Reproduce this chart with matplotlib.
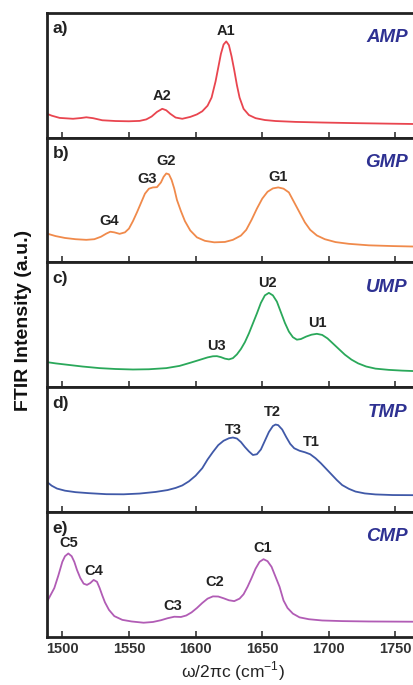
import matplotlib
matplotlib.use("Agg")
import matplotlib.pyplot as plt

plt.rcParams['font.family'] = ['Liberation Sans', 'DejaVu Sans']
plt.rcParams['mathtext.fontset'] = 'custom'
plt.rcParams['mathtext.rm'] = 'Liberation Sans'

# spectra (y normalised to panel height)
amp_x = [1488.5, 1492, 1498, 1508, 1514, 1518, 1523, 1530, 1540, 1550, 1558, 1563, 1567, 1571, 1575,
         1578, 1581, 1585, 1590, 1596, 1601, 1605, 1609, 1612, 1615, 1617, 1619, 1621, 1623, 1625,
         1627, 1629, 1631, 1633, 1636, 1640, 1645, 1652, 1660, 1675, 1695, 1720, 1745, 1765]
amp_y = [0.19, 0.175, 0.157, 0.150, 0.156, 0.162, 0.155, 0.138, 0.132, 0.130, 0.133, 0.145, 0.168,
         0.205, 0.230, 0.218, 0.190, 0.160, 0.150, 0.165, 0.185, 0.210, 0.255, 0.320, 0.450, 0.560,
         0.670, 0.745, 0.770, 0.740, 0.650, 0.540, 0.420, 0.320, 0.230, 0.180, 0.155, 0.140, 0.132,
         0.125, 0.120, 0.115, 0.111, 0.108]

gmp_x = [1488.5, 1495, 1502, 1510, 1518, 1524, 1529, 1533, 1536, 1539, 1543, 1547, 1550, 1553, 1556,
         1559, 1562, 1565, 1568, 1571, 1574, 1576, 1578, 1580, 1582, 1584, 1586, 1589, 1592, 1596,
         1601, 1607, 1614, 1622, 1628, 1634, 1638, 1642, 1646, 1650, 1654, 1658, 1662, 1666, 1670,
         1674, 1678, 1682, 1686, 1691, 1697, 1705, 1715, 1730, 1748, 1765]
gmp_y = [0.23, 0.21, 0.195, 0.185, 0.180, 0.185, 0.205, 0.230, 0.245, 0.240, 0.228, 0.240, 0.270,
         0.330, 0.400, 0.475, 0.550, 0.590, 0.600, 0.602, 0.640, 0.685, 0.712, 0.705, 0.660, 0.590,
         0.500, 0.410, 0.330, 0.255, 0.200, 0.172, 0.160, 0.163, 0.180, 0.214, 0.260, 0.340, 0.430,
         0.510, 0.565, 0.592, 0.600, 0.590, 0.560, 0.480, 0.400, 0.320, 0.260, 0.215, 0.185, 0.162,
         0.148, 0.136, 0.130, 0.126]

ump_x = [1488.5, 1495, 1503, 1515, 1528, 1540, 1553, 1565, 1578, 1588, 1596, 1603, 1609, 1613, 1616,
         1619, 1622, 1625, 1628, 1631, 1634, 1637, 1640, 1643, 1646, 1649, 1652, 1655, 1658, 1661,
         1664, 1667, 1670, 1673, 1676, 1679, 1683, 1687, 1691, 1695, 1699, 1703, 1707, 1712, 1717,
         1722, 1728, 1735, 1745, 1755, 1765]
ump_y = [0.20, 0.19, 0.180, 0.165, 0.152, 0.145, 0.141, 0.143, 0.152, 0.170, 0.195, 0.218, 0.238,
         0.247, 0.248, 0.240, 0.228, 0.222, 0.232, 0.262, 0.305, 0.360, 0.430, 0.510, 0.590, 0.675,
         0.735, 0.755, 0.735, 0.685, 0.600, 0.515, 0.445, 0.400, 0.380, 0.385, 0.405, 0.420, 0.427,
         0.418, 0.390, 0.350, 0.310, 0.260, 0.220, 0.190, 0.165, 0.148, 0.138, 0.132, 0.128]

tmp_x = [1488.5, 1492, 1496, 1502, 1510, 1520, 1533, 1546, 1558, 1570, 1579, 1585, 1590, 1595, 1600,
         1605, 1609, 1613, 1617, 1621, 1625, 1628, 1631, 1634, 1637, 1640, 1643, 1646, 1649, 1652,
         1655, 1658, 1660, 1662, 1665, 1668, 1671, 1674, 1678, 1682, 1686, 1690, 1694, 1698, 1702,
         1706, 1710, 1715, 1720, 1727, 1735, 1748, 1765]
tmp_y = [0.24, 0.21, 0.187, 0.170, 0.158, 0.150, 0.142, 0.141, 0.147, 0.160, 0.175, 0.192, 0.212,
         0.245, 0.290, 0.350, 0.420, 0.480, 0.535, 0.570, 0.590, 0.596, 0.588, 0.560, 0.520, 0.485,
         0.456, 0.462, 0.500, 0.570, 0.640, 0.688, 0.700, 0.695, 0.660, 0.600, 0.545, 0.510, 0.490,
         0.478, 0.462, 0.430, 0.390, 0.345, 0.300, 0.255, 0.215, 0.185, 0.163, 0.148, 0.140, 0.135,
         0.134]

cmp_x = [1488.5, 1491, 1494, 1497, 1500, 1502, 1504.5, 1507, 1509, 1511, 1513.5, 1516, 1518.5, 1521,
         1523.5, 1526, 1528, 1530, 1532, 1535, 1539, 1545, 1552, 1561, 1568, 1574, 1579, 1584, 1589,
         1593, 1597, 1601, 1605, 1609, 1613, 1617, 1621, 1625, 1629, 1633, 1636, 1639, 1642, 1645,
         1648, 1651, 1654, 1657, 1660, 1663, 1666, 1669, 1673, 1678, 1685, 1695, 1710, 1730, 1765]
cmp_y = [0.28, 0.33, 0.39, 0.49, 0.60, 0.645, 0.667, 0.645, 0.600, 0.535, 0.470, 0.425, 0.415, 0.430,
         0.455, 0.440, 0.390, 0.330, 0.275, 0.215, 0.165, 0.135, 0.122, 0.112, 0.118, 0.132, 0.148,
         0.160, 0.158, 0.170, 0.195, 0.230, 0.270, 0.305, 0.323, 0.322, 0.308, 0.292, 0.285, 0.305,
         0.340, 0.400, 0.470, 0.545, 0.600, 0.621, 0.605, 0.560, 0.480, 0.400, 0.290, 0.230, 0.185,
         0.155, 0.140, 0.130, 0.125, 0.122, 0.120]

panel_tags = ['a)', 'b)', 'c)', 'd)', 'e)']
names = ['AMP', 'GMP', 'UMP', 'TMP', 'CMP']
colors = ['#e9454f', '#f08a4b', '#2aa85a', '#4059a8', '#b15cb5']
spectra = [(amp_x, amp_y), (gmp_x, gmp_y), (ump_x, ump_y), (tmp_x, tmp_y), (cmp_x, cmp_y)]

# peak labels: (text, x, y)
peaks = [
    [('A1', 1622.6, 0.85), ('A2', 1575, 0.333)],
    [('G4', 1535.4, 0.334), ('G3', 1564, 0.668), ('G2', 1578, 0.815), ('G1', 1662, 0.682)],
    [('U3', 1615.8, 0.333), ('U2', 1654, 0.832), ('U1', 1691.7, 0.512)],
    [('T3', 1628, 0.66), ('T2', 1657.8, 0.80), ('T1', 1687, 0.56)],
    [('C5', 1504.5, 0.747), ('C4', 1523.4, 0.528), ('C3', 1583, 0.245),
     ('C2', 1614.6, 0.44), ('C1', 1650.3, 0.707)],
]

xticks = [1500, 1550, 1600, 1650, 1700, 1750]

W, H = 414, 685
fig = plt.figure(figsize=(W / 100, H / 100), dpi=100)

left = 47 / W
width = 1.0 - left + 0.01
ph = 124.8 / H
bottom0 = 48.3 / H

for i in range(5):
    bot = bottom0 + (4 - i) * ph
    ax = fig.add_axes([left, bot, width, ph])
    x, y = spectra[i]
    ax.plot(x, y, color=colors[i], lw=1.3)
    ax.set_xlim(1488.5, 1767)
    ax.set_ylim(0, 1)
    ax.set_yticks([])
    ax.set_xticks(xticks)
    ax.tick_params(axis='x', direction='in', length=4.5, width=1.1, color='#222222',
                   labelsize=10.5, labelcolor='#333333', pad=4)
    if i < 4:
        ax.tick_params(axis='x', labelbottom=False)
    else:
        for lab in ax.get_xticklabels():
            lab.set_fontweight('bold')
    for side in ['left', 'top', 'bottom']:
        ax.spines[side].set_linewidth(2.0)
        ax.spines[side].set_color('#222222')
    ax.spines['right'].set_visible(False)

    ax.text(0.015, 0.93, panel_tags[i], transform=ax.transAxes, ha='left', va='top',
            fontsize=12.5, fontweight='bold', color='#222222')
    ax.text(0.972, 0.80, names[i], transform=ax.transAxes, ha='right', va='center',
            fontsize=13.5, fontweight='bold', style='italic', color='#2e3192')
    for lab, px, py in peaks[i]:
        ax.text(px, py, lab, ha='center', va='center', fontsize=10.5, fontweight='bold',
                color='#222222')
    if i == 4:
        ax.set_xlabel(r'ω/2πc (cm$^{\mathregular{-1}}$)', fontsize=12.5, labelpad=2,
                      color='#222222')

fig.text(24 / W, 1 - 320 / H, 'FTIR Intensity (a.u.)', rotation=90, ha='center', va='center',
         fontsize=14, fontweight='bold', color='#111111')

fig.savefig('out.png', dpi=100)
